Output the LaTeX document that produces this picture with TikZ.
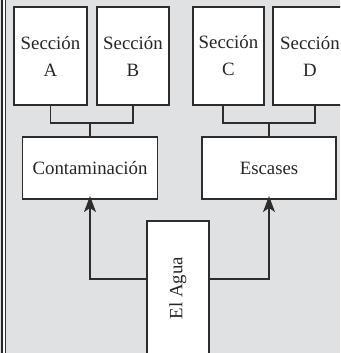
\documentclass[tikz,border=0pt]{standalone}
\usepackage{fontspec}
\setmainfont{Liberation Serif}
\usetikzlibrary{arrows.meta}
\definecolor{bg}{RGB}{224,225,227}
\definecolor{ln}{RGB}{45,45,45}
\tikzset{
  box/.style={draw=ln, line width=1.1pt, fill=white, inner sep=0pt, align=center,
              font=\fontsize{18.8}{27}\selectfont, text=black!85},
  conn/.style={draw=ln, line width=1.1pt},
  arr/.style={draw=ln, line width=1.1pt, -{Stealth[length=16pt,width=12pt,inset=4pt]}}
}
\begin{document}
\begin{tikzpicture}[x=1pt,y=-1pt]
\useasboundingbox (0,0) rectangle (340,353);
\clip (0,0) rectangle (340,353);
\fill[bg] (0,0) rectangle (340,353);
\fill[white] (3,0) rectangle (4.5,353);
\draw[black!85, line width=2pt] (2,-1) -- (2,354);
\draw[black!80, line width=1.2pt] (5.2,-1) -- (5.2,354);
% top boxes
\node[box, minimum width=73pt, minimum height=98pt] (a) at (50.5,56) {Sección\\A};
\node[box, minimum width=72pt, minimum height=98pt] (b) at (133,56) {Sección\\B};
\node[box, minimum width=71pt, minimum height=98pt] (c) at (228.5,56) {Sección\\C};
\node[box, minimum width=74pt, minimum height=98pt] (d) at (310,56) {Sección\\D};
% middle boxes
\node[box, minimum width=135pt, minimum height=62pt] (cont) at (90,168) {Contaminación};
\node[box, minimum width=134pt, minimum height=62pt] (esc) at (269,168) {Escases};
% bottom box
\node[box, minimum width=62pt, minimum height=140pt] (agua) at (178,291) {};
\node[font=\fontsize{18.8}{27}\selectfont, text=black!85, rotate=90, inner sep=0pt] (aguatxt) at (178,288) {El Agua};
% joins
\coordinate (jl) at (90,123);
\coordinate (jr) at (269,123);
\coordinate (ly) at (0,279);
\draw[conn] (a.south) |- (jl) -| (b.south);
\draw[conn] (jl) -- (cont.north);
\draw[conn] ([xshift=-5.5pt]c.south) |- (jr) -| ([xshift=5pt]d.south);
\draw[conn] (jr) -- (esc.north);
% arrows
\draw[arr] (agua.west |- ly) -| ([yshift=3.5pt]cont.south);
\draw[arr] (agua.east |- ly) -| ([yshift=3.5pt]esc.south);
\end{tikzpicture}
\end{document}
